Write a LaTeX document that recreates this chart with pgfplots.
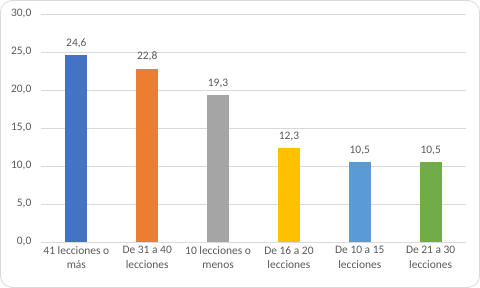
\documentclass[border=0pt]{standalone}
\usepackage{pgfplots}
\pgfplotsset{compat=1.18}
\usepackage{fontspec}
\setmainfont{Carlito}
\definecolor{txt}{HTML}{595959}
\definecolor{gridc}{HTML}{D9D9D9}
\definecolor{c1}{HTML}{4472C4}
\definecolor{c2}{HTML}{ED7D31}
\definecolor{c3}{HTML}{A5A5A5}
\definecolor{c4}{HTML}{FFC000}
\definecolor{c5}{HTML}{5B9BD5}
\definecolor{c6}{HTML}{70AD47}
\begin{document}
\begin{tikzpicture}[x=1bp,y=1bp]
\draw[draw=gridc, line width=0.8bp, rounded corners=12bp] (0.5,0.5) rectangle (479.5,287.5);
\begin{axis}[
  at={(41bp,46bp)}, anchor=south west,
  scale only axis, width=425bp, height=228bp,
  xmin=-0.5, xmax=5.5, ymin=0, ymax=30,
  ytick={0,5,...,30},
  xtick={0,1,2,3,4,5},
  xticklabels={{41 lecciones o\\más},{De 31 a 40\\lecciones},{10 lecciones o\\menos},{De 16 a 20\\lecciones},{De 10 a 15\\lecciones},{De 21 a 30\\lecciones}},
  xticklabel style={align=center, font=\fontsize{11.5}{14.5}\selectfont, text=txt, yshift=-1bp},
  yticklabel style={font=\fontsize{11.5}{14}\selectfont, text=txt, xshift=-6bp},
  /pgf/number format/assume math mode=true,
  /pgf/number format/.cd, fixed, fixed zerofill, precision=1, use comma, /pgfplots/.cd,
  ymajorgrids, xmajorgrids=false, grid style={draw=gridc, line width=0.8bp},
  axis lines*=left,
  x axis line style={draw=none},
  y axis line style={draw=none},
  major tick length=0pt,
  ybar, bar width=22bp, bar shift=0pt,
  nodes near coords,
  every node near coord/.append style={font=\fontsize{11.5}{14}\selectfont, text=txt, inner ysep=7bp},
  nodes near coords style={/pgf/number format/.cd, fixed, fixed zerofill, precision=1, use comma},
]
\addplot[draw=none, fill=c1] coordinates {(0,24.6)};
\addplot[draw=none, fill=c2] coordinates {(1,22.8)};
\addplot[draw=none, fill=c3] coordinates {(2,19.3)};
\addplot[draw=none, fill=c4] coordinates {(3,12.3)};
\addplot[draw=none, fill=c5] coordinates {(4,10.5)};
\addplot[draw=none, fill=c6] coordinates {(5,10.5)};
\end{axis}
\end{tikzpicture}
\end{document}
